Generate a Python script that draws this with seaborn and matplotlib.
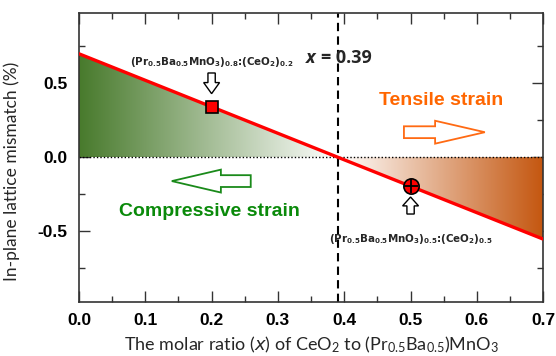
import numpy as np
import matplotlib
matplotlib.use('Agg')
import matplotlib.pyplot as plt
import seaborn as sns
from matplotlib.colors import LinearSegmentedColormap
from matplotlib.patches import FancyArrow

# 数据: 失配度随 CeO2 摩尔比线性变化
ratio = [0.0, 0.39, 0.7]
mismatch = [0.70, 0.0, -0.555]
sample_x = [0.2, 0.5]
sample_y = [0.34, -0.195]
cross_x = 0.39
x_ticks = [0.0, 0.1, 0.2, 0.3, 0.4, 0.5, 0.6, 0.7]
y_ticks = [-0.5, 0.0, 0.5]

sns.set_style('ticks')
plt.rcParams['font.family'] = ['Liberation Sans', 'DejaVu Sans']
plt.rcParams['axes.edgecolor'] = '#333333'
plt.rcParams['xtick.color'] = '#333333'
plt.rcParams['ytick.color'] = '#333333'

fig = plt.figure(figsize=(5.56, 3.56), dpi=100)
ax = fig.add_axes([0.142, 0.152, 0.835, 0.811])

# 渐变填充 (压缩: 绿色, 拉伸: 橙色)
green_cmap = LinearSegmentedColormap.from_list('g', ['#487a2c', '#ffffff'])
orange_cmap = LinearSegmentedColormap.from_list('o', ['#ffffff', '#c4560f'])
grad = np.linspace(0, 1, 256).reshape(1, -1)

poly_g = ax.fill_between(ratio[:2], mismatch[:2], 0, facecolor='none', edgecolor='none')
img_g = ax.imshow(grad, extent=[ratio[0], ratio[1], 0, mismatch[0]], cmap=green_cmap,
                  aspect='auto', origin='lower', zorder=1)
img_g.set_clip_path(poly_g.get_paths()[0], transform=ax.transData)

poly_o = ax.fill_between(ratio[1:], mismatch[1:], 0, facecolor='none', edgecolor='none')
img_o = ax.imshow(grad, extent=[ratio[1], ratio[2], mismatch[2], 0], cmap=orange_cmap,
                  aspect='auto', origin='lower', zorder=1)
img_o.set_clip_path(poly_o.get_paths()[0], transform=ax.transData)

# 参考线
ax.axhline(0, color='black', lw=1.0, ls=(0, (1, 1.5)), zorder=2)
ax.axvline(cross_x, color='black', lw=1.5, ls=(0, (4, 2.5)), zorder=2)

# 主线
sns.lineplot(x=ratio, y=mismatch, color='red', lw=2.4, ax=ax, zorder=3)

# 样品点
ax.plot(sample_x[0], sample_y[0], marker='s', ms=9, mfc='red', mec='black', mew=1.2, zorder=5)
ax.plot(sample_x[1], sample_y[1], marker='o', ms=11, mfc='red', mec='black', mew=1.2, zorder=5)
ax.plot(sample_x[1], sample_y[1], marker='+', ms=10, mec='black', mew=1.3, zorder=6)

# 空心箭头
ax.add_patch(FancyArrow(0.259, -0.162, -0.119, 0, width=0.08, head_width=0.155,
                        head_length=0.074, length_includes_head=True,
                        fc='white', ec='#1a8a1a', lw=1.3, zorder=4))
ax.add_patch(FancyArrow(0.490, 0.169, 0.122, 0, width=0.08, head_width=0.155,
                        head_length=0.075, length_includes_head=True,
                        fc='white', ec='#ff6a13', lw=1.3, zorder=4))
ax.add_patch(FancyArrow(0.2, 0.57, 0, -0.14, width=0.011, head_width=0.024,
                        head_length=0.075, length_includes_head=True,
                        fc='white', ec='black', lw=1.0, zorder=4))
ax.add_patch(FancyArrow(0.5, -0.385, 0, 0.115, width=0.011, head_width=0.024,
                        head_length=0.06, length_includes_head=True,
                        fc='white', ec='black', lw=1.0, zorder=4))

label_08 = r'(Pr$\mathregular{_{0.5}}$Ba$\mathregular{_{0.5}}$MnO$\mathregular{_3}$)$\mathregular{_{0.8}}$:(CeO$\mathregular{_2}$)$\mathregular{_{0.2}}$'
label_05 = r'(Pr$\mathregular{_{0.5}}$Ba$\mathregular{_{0.5}}$MnO$\mathregular{_3}$)$\mathregular{_{0.5}}$:(CeO$\mathregular{_2}$)$\mathregular{_{0.5}}$'
ax.text(0.2, 0.625, label_08, family='DejaVu Sans', fontsize=7.4, fontweight='bold',
        ha='center', va='baseline', zorder=6)
ax.text(0.5, -0.575, label_05, family='DejaVu Sans', fontsize=7.4, fontweight='bold',
        ha='center', va='baseline', zorder=6)

# x = 0.39 (x 斜体)
bold_font = ['Open Sans', 'DejaVu Sans']
ax.text(0.356, 0.64, 'x', family=bold_font, fontsize=13, fontweight='bold',
        style='italic', ha='right', va='baseline')
ax.text(0.365, 0.64, '= 0.39', family=bold_font, fontsize=13, fontweight='bold',
        ha='left', va='baseline')
ax.text(0.546, 0.385, 'Tensile strain', color='#ff6600', fontsize=14,
        fontweight='bold', ha='center', va='center')
ax.text(0.197, -0.365, 'Compressive strain', color='#0a8a0a', fontsize=14,
        fontweight='bold', ha='center', va='center')

# 坐标轴
ax.set_xlim(0, 0.7)
ax.set_ylim(-0.98, 0.975)
ax.set_xticks(x_ticks)
ax.set_xticks(np.arange(0.05, 0.7, 0.1), minor=True)
ax.set_yticks(y_ticks)
ax.set_yticks([-0.75, -0.25, 0.25, 0.75], minor=True)
ax.set_xticklabels(['%.1f' % v for v in x_ticks], fontweight='bold', fontsize=12.5, color='black')
ax.set_yticklabels(['%.1f' % v for v in y_ticks], fontweight='bold', fontsize=12.5, color='black')
ax.tick_params(which='both', direction='in', top=True, right=True, width=1.0)
ax.tick_params(which='major', length=8, pad=8)
ax.tick_params(which='minor', length=4.5)
for sp in ax.spines.values():
    sp.set_linewidth(1.2)

ax.set_xlabel(r'The molar ratio ($\mathregular{\mathit{x}}$) of CeO$\mathregular{_2}$ to (Pr$\mathregular{_{0.5}}$Ba$\mathregular{_{0.5}}$)MnO$\mathregular{_3}$',
              family=['Lato', 'DejaVu Sans'], fontsize=13)
ax.set_ylabel('In-plane lattice mismatch (%)', family=['Lato', 'DejaVu Sans'], fontsize=12.5)
ax.xaxis.set_label_coords(0.5, -0.115)
ax.yaxis.set_label_coords(-0.127, 0.453)

plt.savefig('out.png', dpi=100)
